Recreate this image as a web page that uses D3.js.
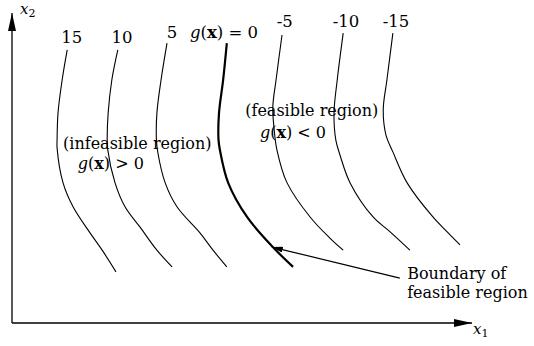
<!DOCTYPE html>
<html>
<head>
<meta charset="utf-8">
<script src="https://cdn.jsdelivr.net/npm/d3@7"></script>
<style>
  html, body { margin: 0; padding: 0; background: #fff; }
  svg { display: block; }
  text { font-family: "DejaVu Serif", "Liberation Serif", serif; fill: #000; }
</style>
</head>
<body>
<div id="chart"></div>
<script>
// ---- data (x1, x2 in abstract units 0..100) ----
const levels = [15, 10, 5, 0, -5, -10, -15];
const levelLabels = ["15", "10", "5", "g(x) = 0", "-5", "-10", "-15"];

const contour15 = [[12.0,88.1],[10.9,78.4],[10.0,67.7],[9.8,59.0],[9.8,56.5],[11.1,45.2],[13.3,37.4],[17.0,29.0],[19.6,23.5],[22.6,16.5]];
const contour10 = [[23.0,88.1],[21.7,78.4],[20.9,67.7],[20.7,59.0],[20.8,56.0],[22.4,45.2],[24.6,37.4],[27.8,31.0],[31.5,23.5],[34.8,18.1]];
const contour5  = [[33.7,90.3],[32.4,78.4],[31.5,67.7],[31.4,59.0],[31.7,55.0],[33.3,45.2],[35.9,37.4],[40.9,29.0],[43.7,23.5],[46.7,18.1]];
const contour0  = [[46.7,90.3],[45.9,78.4],[45.0,67.7],[44.9,59.0],[45.2,55.8],[47.0,45.2],[51.1,34.2],[56.7,24.5],[61.1,18.1]];
const contourM5 = [[58.7,92.9],[57.4,78.4],[56.7,69.7],[57.0,62.3],[57.6,55.8],[59.8,45.2],[64.8,34.2],[69.1,27.4],[72.0,23.5]];
const contourM10= [[72.0,93.5],[70.7,78.4],[70.0,67.7],[70.4,59.0],[71.3,54.2],[73.5,45.2],[78.5,34.2],[82.2,29.4],[86.5,23.5]];
const contourM15= [[82.8,93.5],[81.5,78.4],[80.7,68.7],[81.3,60.6],[82.8,55.2],[85.9,45.2],[91.5,34.2],[94.6,29.4],[97.4,25.2]];
const contours = [contour15, contour10, contour5, contour0, contourM5, contourM10, contourM15];

// label anchor (data units) for each level
const labelX = [13.0, 23.9, 34.8, 38.7, 59.3, 72.6, 83.5];
const labelY = [90.3, 90.3, 91.9, 91.9, 95.5, 95.5, 95.5];

// region annotations
const notes = ["(infeasible region)", "g(x) > 0", "(feasible region)", "g(x) < 0", "Boundary of", "feasible region"];
const noteX = [11.1, 14.3, 50.7, 53.9, 85.9, 85.9];
const noteY = [56.1, 49.7, 66.8, 59.7, 14.2, 8.1];

// pointer from annotation to boundary
const pointerFrom = [84.3, 14.5];
const pointerTo = [56.5, 24.5];

// ---- drawing ----
const W = 534, H = 346;
const x = d3.scaleLinear().domain([0, 100]).range([12, 472]);
const y = d3.scaleLinear().domain([0, 100]).range([323, 13]);

const svg = d3.select("#chart").append("svg").attr("width", W).attr("height", H);
const defs = svg.append("defs");
defs.append("marker").attr("id", "axisArrow")
  .attr("viewBox", "0 0 18 8").attr("refX", 18).attr("refY", 4)
  .attr("markerWidth", 18).attr("markerHeight", 8)
  .attr("markerUnits", "userSpaceOnUse").attr("orient", "auto")
  .append("path").attr("d", "M0,0L18,4L0,8Z").attr("fill", "#000");
defs.append("marker").attr("id", "ptrArrow")
  .attr("viewBox", "0 0 11 6").attr("refX", 11).attr("refY", 3)
  .attr("markerWidth", 11).attr("markerHeight", 6)
  .attr("markerUnits", "userSpaceOnUse").attr("orient", "auto")
  .append("path").attr("d", "M0,0L11,3L0,6Z").attr("fill", "#000");

// axes
svg.append("line")
  .attr("x1", x(0)).attr("y1", y(0)).attr("x2", x(100)).attr("y2", y(0))
  .attr("stroke", "#000").attr("stroke-width", 1.3).attr("marker-end", "url(#axisArrow)");
svg.append("line")
  .attr("x1", x(0)).attr("y1", y(0)).attr("x2", x(0)).attr("y2", y(100))
  .attr("stroke", "#000").attr("stroke-width", 1.3).attr("marker-end", "url(#axisArrow)");

// axis labels
function mathVar(sel, base, sub) {
  sel.append("tspan").attr("font-style", "italic").text(base);
  sel.append("tspan").attr("font-size", "11px").attr("dy", 3).text(sub);
}
mathVar(svg.append("text").attr("x", x(100) + 1).attr("y", y(0) + 11).attr("font-size", "15px"), "x", "1");
mathVar(svg.append("text").attr("x", x(0) + 8).attr("y", y(100) + 1).attr("font-size", "15px"), "x", "2");

// contours
const line = d3.line().x(d => x(d[0])).y(d => y(d[1])).curve(d3.curveCatmullRom.alpha(0.5));
svg.append("g").selectAll("path").data(contours).join("path")
  .attr("d", line)
  .attr("fill", "none")
  .attr("stroke", "#000")
  .attr("stroke-width", (d, i) => levels[i] === 0 ? 2.2 : 1.1);

// math-aware text: renders g(x) with italic g and bold x
function richText(sel, str) {
  const m = str.match(/^(.*?)g\(x\)(.*)$/);
  if (!m) { sel.text(str); return; }
  if (m[1]) sel.append("tspan").text(m[1]);
  sel.append("tspan").attr("font-style", "italic").text("g");
  sel.append("tspan").text("(");
  sel.append("tspan").attr("font-weight", "bold").text("x");
  sel.append("tspan").text(")" + m[2]);
}

// level labels
levels.forEach((lv, i) => {
  const t = svg.append("text")
    .attr("x", x(labelX[i])).attr("y", y(labelY[i]))
    .attr("font-size", "16.5px")
    .attr("text-anchor", lv === 0 ? "start" : "middle");
  richText(t, levelLabels[i]);
});

// notes
notes.forEach((n, i) => {
  const t = svg.append("text")
    .attr("x", x(noteX[i])).attr("y", y(noteY[i]))
    .attr("font-size", "16px");
  richText(t, n);
});

// pointer
svg.append("line")
  .attr("x1", x(pointerFrom[0])).attr("y1", y(pointerFrom[1]))
  .attr("x2", x(pointerTo[0])).attr("y2", y(pointerTo[1]))
  .attr("stroke", "#000").attr("stroke-width", 1.2).attr("marker-end", "url(#ptrArrow)");
</script>
</body>
</html>
